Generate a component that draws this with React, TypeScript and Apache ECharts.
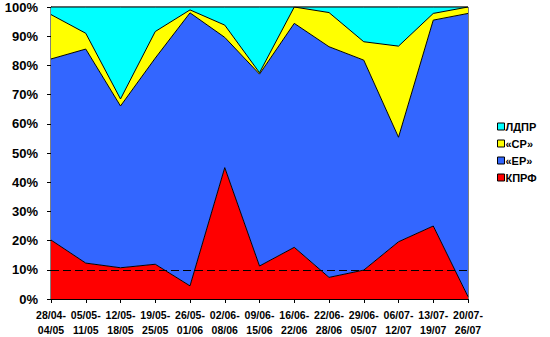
import React, { useEffect, useRef } from "react";
import * as echarts from "echarts";

const categories = [
  "28/04-04/05", "05/05-11/05", "12/05-18/05", "19/05-25/05", "26/05-01/06",
  "02/06-08/06", "09/06-15/06", "16/06-22/06", "22/06-28/06", "29/06-05/07",
  "06/07-12/07", "13/07-19/07", "20/07-26/07",
];
const kprf = [20.2, 12.3, 10.7, 11.9, 4.5, 45, 11.3, 17.7, 7.4, 9.9, 19.6, 25, 0.8];
const er = [62, 73.3, 55.4, 70.6, 93.5, 44.6, 65.7, 76.7, 79, 71.9, 35.8, 70.5, 97];
const sr = [15.2, 5.4, 2.4, 9.1, 1, 4.2, 0.5, 5.6, 11.7, 6.3, 31.2, 2.3, 2.2];
const ldpr = [2.6, 9, 31.5, 8.4, 1, 6.2, 22.5, 0, 1.9, 11.9, 13.4, 2.2, 0];
const threshold = 10;
const yTicks = { min: 0, max: 100, interval: 10 };

const FONT = "Arial, 'Liberation Sans', sans-serif";

export default function App() {
  const ref = useRef<HTMLDivElement>(null);
  useEffect(() => {
    if (!ref.current) return;
    const chart = echarts.init(ref.current, undefined, { renderer: "svg" });
    const mk = (name: string, data: number[], color: string, extra: any = {}) => ({
      name,
      type: "line",
      stack: "total",
      data,
      symbol: "none",
      color,
      lineStyle: { color: "#000", width: 1 },
      areaStyle: { color, opacity: 1 },
      itemStyle: { color, borderColor: "#000", borderWidth: 1 },
      ...extra,
    });
    chart.setOption({
      animation: false,
      backgroundColor: "#fff",
      grid: { left: 51, right: 82, top: 7, bottom: 38, show: true, borderColor: "#000", borderWidth: 1 },
      legend: {
        orient: "vertical",
        left: 492,
        top: 116,
        itemWidth: 7,
        itemHeight: 7,
        itemGap: 6,
        icon: "rect",
        data: ["ЛДПР", "«СР»", "«ЕР»", "КПРФ"],
        itemStyle: { borderColor: "#000", borderWidth: 1 },
        textStyle: { fontFamily: FONT, fontWeight: "bold", fontSize: 11, color: "#000", padding: [0, 0, 0, -4] },
      },
      xAxis: {
        type: "category",
        boundaryGap: false,
        data: categories,
        axisLine: { lineStyle: { color: "#000", width: 1 } },
        axisTick: { show: true, length: 4, interval: 0, lineStyle: { color: "#000" } },
        axisLabel: {
          interval: 0,
          margin: 8,
          fontFamily: FONT,
          fontWeight: "bold",
          fontSize: 10.5,
          lineHeight: 15,
          color: "#000",
          formatter: (v: string) => v.replace("-", "-\n"),
        },
        splitLine: { show: false },
      },
      yAxis: {
        type: "value",
        min: yTicks.min,
        max: yTicks.max,
        interval: yTicks.interval,
        axisLine: { show: true, lineStyle: { color: "#000", width: 1 } },
        axisTick: { show: true, length: 4, lineStyle: { color: "#000" } },
        axisLabel: {
          margin: 13,
          fontFamily: FONT,
          fontWeight: "bold",
          fontSize: 13,
          color: "#000",
          formatter: "{value}%",
        },
        splitLine: { show: false },
      },
      series: [
        mk("КПРФ", kprf, "#FF0000"),
        mk("«ЕР»", er, "#3366FF"),
        mk("«СР»", sr, "#FFFF00"),
        mk("ЛДПР", ldpr, "#00FFFF", {
          markLine: {
            silent: true,
            symbol: "none",
            label: { show: false },
            lineStyle: { color: "#000", type: [8, 4], width: 1 },
            data: [{ yAxis: threshold }],
          },
        }),
      ],
    });
    return () => chart.dispose();
  }, []);
  return <div ref={ref} style={{ position: "fixed", left: 0, top: 0, width: 550, height: 337 }} />;
}
